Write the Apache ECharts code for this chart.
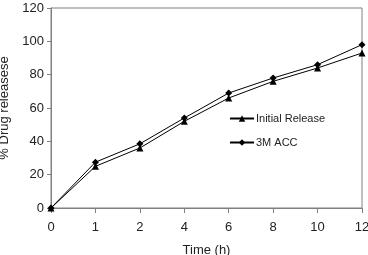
<!DOCTYPE html>
<html>
<head>
<meta charset="utf-8">
<script src="https://cdn.jsdelivr.net/npm/echarts@6/dist/echarts.min.js"></script>
<style>
  html, body { margin:0; padding:0; background:#fff; }
  #chart { width:368px; height:255px; }
</style>
</head>
<body>
<div id="chart"></div>
<script>
const hours = ['0', '1', '2', '4', '6', '8', '10', '12']
const initialRelease = [0, 25, 36, 52, 66, 76, 84, 93]
const accelerated3M = [0, 27.5, 38.5, 54, 69, 78, 86, 98]

const font = 'Liberation Sans, Arial, sans-serif'
const axisGrey = '#808080'

const chart = echarts.init(document.getElementById('chart'), null, { renderer: 'canvas' })
chart.setOption({
  animation: false,
  backgroundColor: '#fff',
  grid: {
    left: 51, right: 6, top: 8, bottom: 47,
    containLabel: false,
    outerBoundsMode: 'none',
    show: true, borderColor: axisGrey, borderWidth: 1,
  },
  legend: {
    orient: 'vertical',
    left: 224, top: 108,
    itemWidth: 24, itemHeight: 8, itemGap: 13,
    textStyle: { fontFamily: font, fontSize: 11, color: '#222', padding: [0, 0, 0, -3] },
    data: ['Initial Release', '3M ACC'],
  },
  xAxis: {
    type: 'category',
    data: hours,
    boundaryGap: false,
    name: 'Time (h)',
    nameLocation: 'middle',
    nameGap: 36,
    nameTextStyle: { fontFamily: font, fontSize: 13, color: '#222' },
    axisLine: { lineStyle: { color: axisGrey } },
    axisTick: { alignWithLabel: true, length: 5, lineStyle: { color: axisGrey } },
    axisLabel: { fontFamily: font, fontSize: 13, color: '#222', margin: 13 },
  },
  yAxis: {
    type: 'value',
    min: 0, max: 120, interval: 20,
    name: '% Drug releasese',
    nameLocation: 'middle',
    nameGap: 31,
    nameTextStyle: { fontFamily: font, fontSize: 13, color: '#222' },
    axisLine: { show: true, lineStyle: { color: axisGrey } },
    axisTick: { show: true, length: 4, lineStyle: { color: axisGrey } },
    axisLabel: { fontFamily: font, fontSize: 13, color: '#222', margin: 7 },
    splitLine: { show: false },
  },
  series: [
    {
      name: 'Initial Release',
      type: 'line',
      data: initialRelease,
      symbol: 'triangle',
      symbolSize: 7,
      itemStyle: { color: '#000' },
      lineStyle: { color: '#000', width: 1 },
    },
    {
      name: '3M ACC',
      type: 'line',
      data: accelerated3M,
      symbol: 'diamond',
      symbolSize: 7,
      itemStyle: { color: '#000' },
      lineStyle: { color: '#000', width: 1 },
    },
  ],
})
</script>
</body>
</html>
